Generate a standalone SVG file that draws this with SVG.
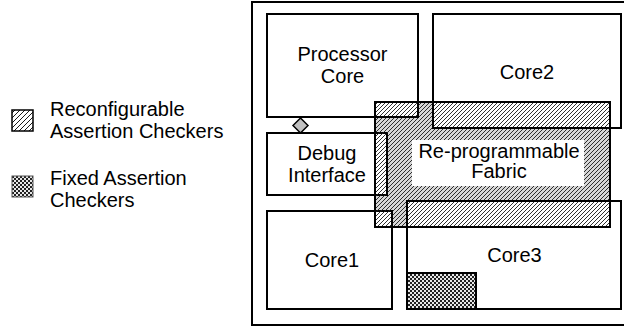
<svg xmlns="http://www.w3.org/2000/svg" width="624" height="327" viewBox="0 0 624 327">
  <defs>
    <!-- diagonal hatch for reconfigurable checkers -->
    <pattern id="hatch" patternUnits="userSpaceOnUse" width="4" height="4">
      <path d="M-1,1 L1,-1 M0,4 L4,0 M3,5 L5,3" stroke="#1a1a1a" stroke-width="0.9"/>
    </pattern>
    <pattern id="hatchLegend" patternUnits="userSpaceOnUse" width="5" height="5">
      <path d="M-1,1 L1,-1 M0,5 L5,0 M4,6 L6,4" stroke="#1a1a1a" stroke-width="1"/>
    </pattern>
    <!-- fine checker for fixed checkers -->
    <pattern id="checker" patternUnits="userSpaceOnUse" width="4" height="4">
      <rect width="4" height="4" fill="#e8e8e8"/>
      <rect width="2" height="2" fill="#222"/>
      <rect x="2" y="2" width="2" height="2" fill="#222"/>
    </pattern>
  </defs>
  <style>
    .box { fill: #fff; stroke: #000; stroke-width: 2; }
    .edge { fill: none; stroke: #000; stroke-width: 2; }
    .lbl { font-family: "Liberation Sans", Arial, sans-serif; font-size: 20px; fill: #000; }
    .mid { text-anchor: middle; }
  </style>

  <rect width="624" height="327" fill="#fff"/>

  <!-- legend -->
  <g id="legend-reconfigurable">
    <rect x="12" y="110" width="21" height="21" fill="url(#hatchLegend)" stroke="#000" stroke-width="1.5"/>
    <text class="lbl" x="50" y="116">Reconfigurable</text>
    <text class="lbl" x="50" y="138">Assertion Checkers</text>
  </g>
  <g id="legend-fixed">
    <rect x="12" y="176" width="21" height="21" fill="url(#checker)" stroke="#555" stroke-width="1"/>
    <text class="lbl" x="50" y="185">Fixed Assertion</text>
    <text class="lbl" x="50" y="207">Checkers</text>
  </g>

  <!-- chip outline -->
  <g id="chip">
    <rect x="252" y="2" width="374" height="323" class="box"/>
  </g>

  <!-- fabric background shading -->
  <g id="fabric-base">
    <rect x="375" y="102" width="235" height="125" fill="#d6d6d6"/>
  </g>

  <g id="processor-core">
    <rect x="267" y="14" width="151" height="103" class="box"/>
    <text class="lbl mid" x="342.5" y="61">Processor</text>
    <text class="lbl mid" x="342.5" y="83">Core</text>
  </g>
  <g id="core2">
    <rect x="433" y="14" width="188" height="114" class="box"/>
    <text class="lbl mid" x="527" y="79">Core2</text>
  </g>
  <g id="debug-interface">
    <rect x="267" y="133" width="120" height="62" class="box"/>
    <text class="lbl mid" x="327" y="160">Debug</text>
    <text class="lbl mid" x="327" y="182">Interface</text>
  </g>
  <g id="core1">
    <rect x="267" y="211" width="125" height="98" class="box"/>
    <text class="lbl mid" x="332" y="267">Core1</text>
  </g>
  <g id="core3">
    <rect x="407" y="201" width="214" height="108" class="box"/>
    <text class="lbl mid" x="514.5" y="262">Core3</text>
  </g>

  <!-- re-programmable fabric: hatching laid over the overlapping cores -->
  <g id="fabric">
    <rect x="375" y="102" width="235" height="125" fill="url(#hatch)"/>
    <rect x="412" y="140" width="172" height="46" fill="#fff"/>
    <path class="edge" d="M267,117 H418 V102 M387,133 V195 M433,102 V128 H621 M392,211 V227 M407,227 V201 H621"/>
    <rect x="375" y="102" width="235" height="125" class="edge"/>
    <text class="lbl mid" x="499" y="158">Re-programmable</text>
    <text class="lbl mid" x="499" y="178">Fabric</text>
  </g>

  <!-- fixed checker block inside Core3 -->
  <g id="fixed-checker">
    <rect x="407" y="273" width="69" height="36" fill="url(#checker)" stroke="#000" stroke-width="2"/>
  </g>

  <!-- link between processor core and debug interface -->
  <g id="connectors">
    <polygon points="300.5,118 308,125.5 300.5,133 293,125.5" fill="#c0c0c0" stroke="#000" stroke-width="1.5"/>
  </g>
</svg>
